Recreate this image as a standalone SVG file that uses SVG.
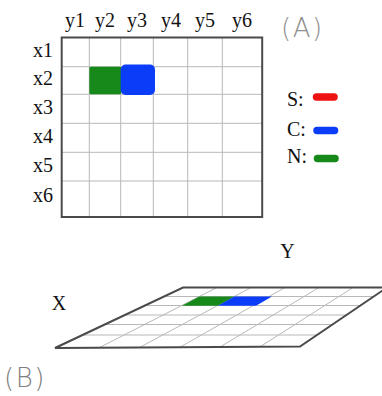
<svg xmlns="http://www.w3.org/2000/svg" width="382" height="396" viewBox="0 0 382 396">
<style>
.lbl{font-family:"Liberation Serif","Times New Roman",serif;font-size:20px;fill:#111;}
.mid{text-anchor:middle;}
.hand{font-family:"DejaVu Sans","Liberation Sans",sans-serif;font-weight:200;font-size:26px;fill:#909090;letter-spacing:1.5px;}
.inner{stroke:#b8b8b8;stroke-width:1;fill:none;}
.outer{stroke:#4a4a4a;stroke-width:2;fill:none;}
.pill{stroke-width:7.5;stroke-linecap:round;fill:none;}
</style>
<rect width="382" height="396" fill="#fff"/>

<g id="gridA">
  <g class="inner">
    <line x1="89.3" y1="37.5" x2="89.3" y2="217"/>
    <line x1="120.7" y1="37.5" x2="120.7" y2="217"/>
    <line x1="153.3" y1="37.5" x2="153.3" y2="217"/>
    <line x1="187.7" y1="37.5" x2="187.7" y2="217"/>
    <line x1="222.3" y1="37.5" x2="222.3" y2="217"/>
    <line x1="61.7" y1="66.7" x2="262" y2="66.7"/>
    <line x1="61.7" y1="94.3" x2="262" y2="94.3"/>
    <line x1="61.7" y1="123.3" x2="262" y2="123.3"/>
    <line x1="61.7" y1="152.3" x2="262" y2="152.3"/>
    <line x1="61.7" y1="181" x2="262" y2="181"/>
  </g>
  <rect x="89.3" y="66.7" width="32" height="27.6" fill="#17891a" rx="1.5"/>
  <rect x="120.7" y="64.5" width="34.3" height="30.5" fill="#0b3cf8" rx="5"/>
  <rect x="61.7" y="37.5" width="200.5" height="179.5" class="outer"/>
</g>

<g id="labelsA">
  <text class="lbl mid" x="75" y="27">y1</text>
  <text class="lbl mid" x="105" y="27">y2</text>
  <text class="lbl mid" x="137" y="27">y3</text>
  <text class="lbl mid" x="171" y="27">y4</text>
  <text class="lbl mid" x="205" y="27">y5</text>
  <text class="lbl mid" x="242" y="27">y6</text>
  <text class="lbl mid" x="43" y="57">x1</text>
  <text class="lbl mid" x="43" y="85">x2</text>
  <text class="lbl mid" x="43" y="114">x3</text>
  <text class="lbl mid" x="43" y="143">x4</text>
  <text class="lbl mid" x="43" y="172">x5</text>
  <text class="lbl mid" x="43" y="202">x6</text>
  <text class="hand" x="281" y="37">(A)</text>
</g>

<g id="legend">
  <text class="lbl" x="287" y="106">S:</text>
  <line class="pill" x1="316.5" y1="97" x2="334" y2="97" stroke="#ee1212"/>
  <text class="lbl" x="287" y="136">C:</text>
  <line class="pill" x1="317" y1="130.5" x2="334.5" y2="130.5" stroke="#0b3cf8"/>
  <text class="lbl" x="287" y="163">N:</text>
  <line class="pill" x1="317.5" y1="158.5" x2="335" y2="158.5" stroke="#17891a"/>
</g>

<g id="gridB">
  <g class="inner">
    <line x1="164" y1="296.5" x2="373.7" y2="296.5"/>
    <line x1="144.9" y1="305.5" x2="360.4" y2="305.5"/>
    <line x1="124.8" y1="315" x2="346.4" y2="315"/>
    <line x1="104.7" y1="324.5" x2="332.4" y2="324.5"/>
    <line x1="82.5" y1="335" x2="317" y2="335"/>
    <line x1="217" y1="287.5" x2="99" y2="347.8"/>
    <line x1="251" y1="287.5" x2="139.5" y2="347.5"/>
    <line x1="285" y1="287.5" x2="180" y2="347.2"/>
    <line x1="319" y1="287.5" x2="220" y2="347"/>
    <line x1="353" y1="287.5" x2="260" y2="346.8"/>
  </g>
  <polygon points="199.4,296.5 234.4,296.5 217.8,305.8 181.9,305.8" fill="#17891a"/>
  <polygon points="234.4,296.5 272,296.5 256,305.8 217.8,305.8" fill="#0b3cf8"/>
  <polygon class="outer" points="183,287.5 387,287.5 300,346.5 55,348"/>
</g>

<g id="labelsB">
  <text class="lbl mid" x="287.5" y="258">Y</text>
  <text class="lbl mid" x="59" y="310">X</text>
  <text class="hand" x="4" y="387" style="fill:#808080">(B)</text>
</g>
</svg>
